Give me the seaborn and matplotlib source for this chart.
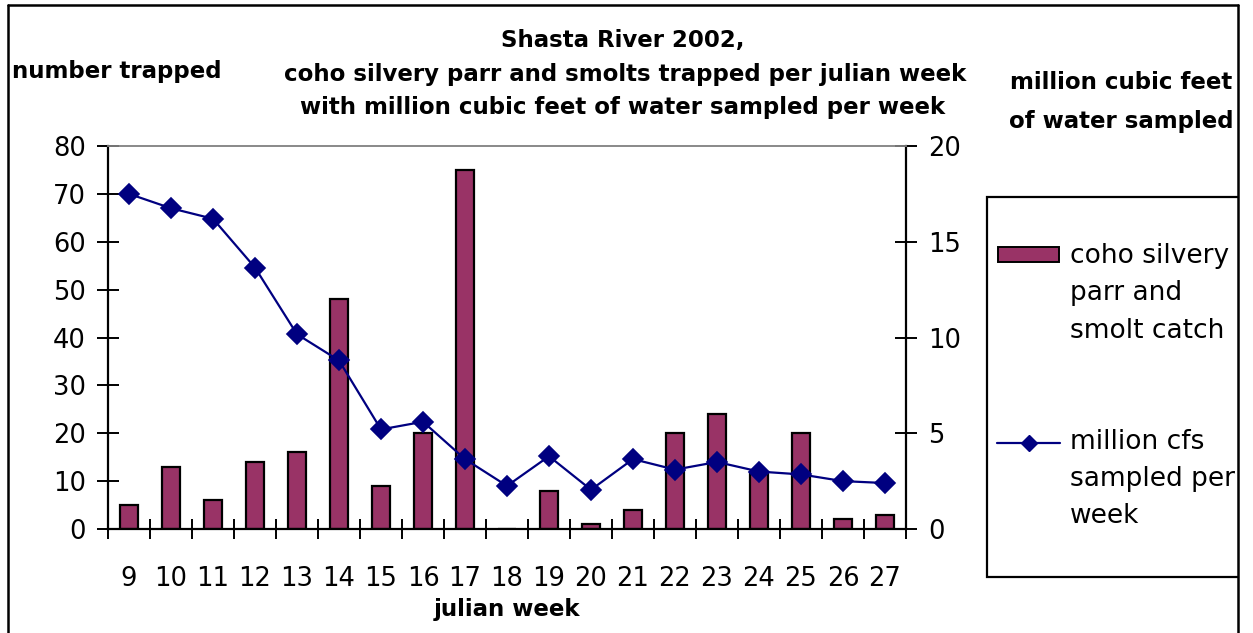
import numpy as np
import pandas as pd
import matplotlib
matplotlib.use("Agg")
import matplotlib.pyplot as plt
from matplotlib.patches import Rectangle
from matplotlib.lines import Line2D
import seaborn as sns

# Julian weeks and weekly values
weeks = ["9", "10", "11", "12", "13", "14", "15", "16", "17", "18",
         "19", "20", "21", "22", "23", "24", "25", "26", "27"]
coho_catch = [5, 13, 6, 14, 16, 48, 9, 20, 75, 0,
              8, 1, 4, 20, 24, 12, 20, 2, 3]
water_sampled = [17.5, 16.75, 16.2, 13.65, 10.17, 8.8, 5.2, 5.6, 3.65, 2.25,
                 3.8, 2.05, 3.65, 3.1, 3.5, 3.0, 2.85, 2.5, 2.4]

left_ticks = list(range(0, 90, 10))
right_ticks = [0, 5, 10, 15, 20]

BAR_COLOR = "#993366"
LINE_COLOR = "#000080"
W, H = 1253, 633

sns.set_style("white")
plt.rcParams["font.family"] = ["DejaVu Sans"]
plt.rcParams["text.color"] = "black"

df = pd.DataFrame({"week": weeks, "catch": coho_catch, "water": water_sampled})

fig = plt.figure(figsize=(W / 100, H / 100), dpi=100)
fig.patch.set_facecolor("white")


def fx(px):
    return px / W


def fy(py):
    return 1 - py / H


ax = fig.add_axes([fx(108), fy(529), fx(906) - fx(108), fy(146) - fy(529)])
ax2 = ax.twinx()

sns.barplot(data=df, x="week", y="catch", order=weeks, ax=ax, color=BAR_COLOR,
            saturation=1, width=0.45, edgecolor="black", linewidth=1.6,
            errorbar=None)
sns.pointplot(data=df, x="week", y="water", order=weeks, ax=ax2,
              color=LINE_COLOR, markers="D", linestyles="-",
              markersize=10, linewidth=1.6, errorbar=None)

ax.set_xlim(-0.5, len(weeks) - 0.5)
ax.set_ylim(0, 80)
ax2.set_ylim(0, 20)
ax.set_yticks(left_ticks)
ax2.set_yticks(right_ticks)
ax.set_xlabel("")
ax.set_ylabel("")
ax2.set_ylabel("")
ax2.set_xlabel("")

tick_font = {"family": "DejaVu Sans", "size": 18.5, "color": "black"}
ax.set_xticks(range(len(weeks)))
ax.set_xticklabels(weeks, fontdict=tick_font)
ax.set_yticklabels([str(v) for v in left_ticks], fontdict=tick_font)
ax2.set_yticklabels([str(v) for v in right_ticks], fontdict=tick_font)

ax.set_xticks(np.arange(-0.5, len(weeks), 1.0), minor=True)
ax.tick_params(axis="x", which="major", length=0, pad=27, colors="black")
ax.tick_params(axis="x", which="minor", direction="inout", length=14.5,
               width=1.4, color="black", bottom=True)
ax.tick_params(axis="y", which="both", direction="inout", length=15.5,
               width=1.4, pad=8, left=True, colors="black")
ax2.tick_params(axis="y", which="both", direction="inout", length=15.5,
                width=1.4, pad=8, right=True, colors="black")

for name in ("top", "right"):
    ax.spines[name].set_visible(False)
for name in ("left", "bottom"):
    ax2.spines[name].set_visible(False)
ax.spines["left"].set_color("black")
ax.spines["left"].set_linewidth(1.6)
ax.spines["bottom"].set_color("black")
ax.spines["bottom"].set_linewidth(1.6)
ax2.spines["right"].set_color("black")
ax2.spines["right"].set_linewidth(1.6)
ax2.spines["top"].set_color("#808080")
ax2.spines["top"].set_linewidth(1.3)
ax.grid(False)
ax2.grid(False)

bold = {"family": "DejaVu Sans", "weight": "bold", "size": 16.5, "color": "black"}

# Title and axis captions
fig.text(fx(623), fy(47), "Shasta River 2002,", ha="center", va="baseline", fontdict=bold)
fig.text(fx(625), fy(81), "coho silvery parr and smolts trapped per julian week",
         ha="center", va="baseline", fontdict=bold)
fig.text(fx(623), fy(114), "with million cubic feet of water sampled per week",
         ha="center", va="baseline", fontdict=bold)
fig.text(fx(12), fy(78), "number trapped", ha="left", va="baseline", fontdict=bold)
fig.text(fx(1121), fy(89), "million cubic feet", ha="center", va="baseline", fontdict=bold)
fig.text(fx(1121), fy(128), "of water sampled", ha="center", va="baseline", fontdict=bold)
fig.text(fx(507), fy(616), "julian week", ha="center", va="baseline", fontdict=bold)

# Legend box with its two entries
fig.add_artist(Rectangle((fx(987), fy(577)), fx(1260) - fx(987), fy(197) - fy(577),
                         transform=fig.transFigure, facecolor="white",
                         edgecolor="black", linewidth=1.6, zorder=2))
fig.add_artist(Rectangle((fx(998), fy(262)), fx(1059) - fx(998), fy(247) - fy(262),
                         transform=fig.transFigure, facecolor=BAR_COLOR,
                         edgecolor="black", linewidth=1.4, zorder=3))
fig.add_artist(Line2D([fx(997), fx(1060)], [fy(443), fy(443)],
                      transform=fig.transFigure, color=LINE_COLOR, linewidth=1.6,
                      zorder=3))
fig.add_artist(Line2D([fx(1029)], [fy(443)], transform=fig.transFigure,
                      color=LINE_COLOR, marker="D", markersize=8, linestyle="none",
                      zorder=3))
leg_font = {"family": "DejaVu Sans", "size": 19, "color": "black"}
for i, line in enumerate(["coho silvery", "parr and", "smolt catch"]):
    fig.text(fx(1070), fy(263 + i * 37.5), line, ha="left", va="baseline",
             fontdict=leg_font, zorder=4)
for i, line in enumerate(["million cfs", "sampled per", "week"]):
    fig.text(fx(1070), fy(449 + i * 37), line, ha="left", va="baseline",
             fontdict=leg_font, zorder=4)

# Blank strip past the chart's right edge and the outer chart border
fig.add_artist(Rectangle((fx(1239), 0), 1 - fx(1239), 1, transform=fig.transFigure,
                         facecolor="white", edgecolor="none", zorder=10))
for xs, ys in [((8, 8), (5, 640)), ((8, 1238), (5, 5)), ((1238, 1238), (5, 640))]:
    fig.add_artist(Line2D([fx(xs[0]), fx(xs[1])], [fy(ys[0]), fy(ys[1])],
                          transform=fig.transFigure, color="black",
                          linewidth=1.8, zorder=11))

fig.savefig("out.png", dpi=100, facecolor="white")
